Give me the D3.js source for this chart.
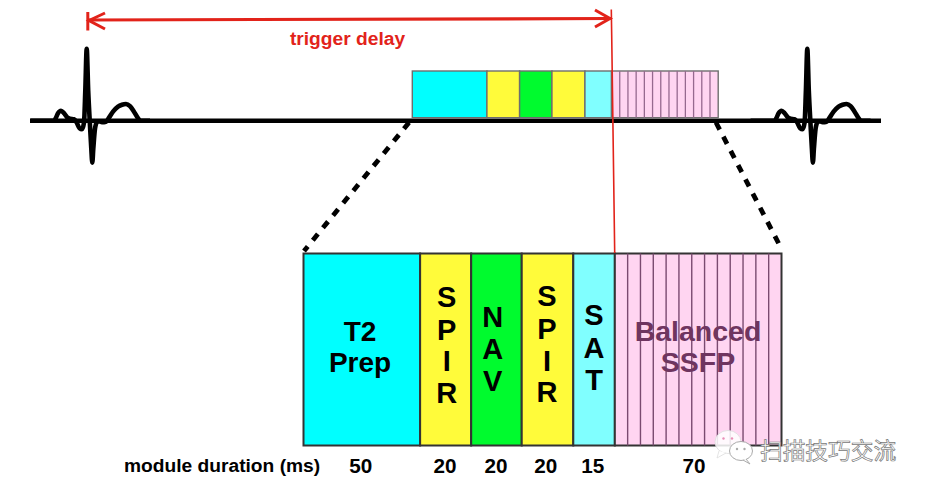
<!DOCTYPE html>
<html><head><meta charset="utf-8">
<script src="https://cdn.jsdelivr.net/npm/d3@7/dist/d3.min.js"></script>
<style>html,body{margin:0;padding:0;background:#fff;overflow:hidden}svg{display:block}text{font-family:"Liberation Sans",Arial,sans-serif;font-weight:700}</style>
</head><body><svg id="c" width="926" height="490"></svg>
<script>
// Modules of the pulse sequence, in order
const moduleNames = ["T2 Prep", "SPIR", "NAV", "SPIR", "SAT", "Balanced SSFP"];
const moduleDurations = [50, 20, 20, 20, 15, 70];
// Widths as drawn (the schematic is not to scale with the durations)
const moduleDrawnWidths = [116.5, 51, 50.5, 51.5, 41.5, 166.5];
const moduleColors = ["#00ffff", "#fffb3a", "#00fb2e", "#fffb3a", "#80ffff", "#ffd5f1"];
const readoutSegments = 13;
const axisLabel = "module duration (ms)";
const delayLabel = "trigger delay";
const watermark = "扫描技巧交流";
// One heartbeat trace: time, amplitude
const ecgTime = [0, 24, 25.5, 28, 31, 34, 37, 40, 44, 46.5, 49.5, 52, 54, 55.3, 56.7, 58.2, 60, 61.3, 62.3, 63.3, 65, 67, 69, 72, 76, 79, 83, 88, 92, 96, 100, 104, 108, 110.7, 120];
const ecgAmp = [0, 0, 2, 7.5, 10, 7.5, 3.5, 2, 1.5, -1.5, -7.5, -8.5, -2, 30, 72, 30, -5, -28, -42, -28, -8, -1.5, -0.5, -1.5, -1, 3, 9, 14, 16, 16.7, 14.5, 9, 2.5, 0, 0];
const beatOffsets = [0, 720.6];

const svg = d3.select("#c");
const RED = "#e2231a";
const total = d3.sum(moduleDrawnWidths);
const cum = d3.cumsum(moduleDrawnWidths);
const edges = [0, ...cum];
const xTop = d3.scaleLinear().domain([0, total]).range([412.3, 718.2]);
const xLow = d3.scaleLinear().domain([0, total]).range([303.5, 781.5]);
const yBase = d3.scaleLinear().domain([0, 1]).range([120.7, 120.7 - 1]);

// baseline + ECG
const xEcg = d3.scaleLinear().domain([0, 100]).range([30, 130]);
const line = d3.line().curve(d3.curveMonotoneX);
svg.append("line").attr("x1", 30.5).attr("x2", 881).attr("y1", yBase(0)).attr("y2", yBase(0))
  .attr("stroke", "#000").attr("stroke-width", 4.4);
beatOffsets.forEach(off => {
  svg.append("path")
    .attr("d", line(ecgTime.map((t, i) => [xEcg(t) + off, yBase(ecgAmp[i])])))
    .attr("fill", "none").attr("stroke", "#000").attr("stroke-width", 4.6)
    .attr("stroke-linejoin", "round").attr("stroke-linecap", "butt");
});

// dashed zoom lines
[[[409, 122.5], [304, 251]], [[716, 122.5], [780, 246]]].forEach(p => {
  svg.append("path").attr("d", d3.line()(p)).attr("stroke", "#000")
    .attr("stroke-width", 4.8).attr("stroke-dasharray", "8 8");
});

function drawBar(x, y0, y1, opt) {
  const g = svg.append("g");
  g.selectAll("rect").data(moduleDrawnWidths).join("rect")
    .attr("x", (d, i) => x(edges[i])).attr("width", (d, i) => x(edges[i + 1]) - x(edges[i]))
    .attr("y", y0).attr("height", y1 - y0)
    .attr("fill", (d, i) => moduleColors[i])
    .attr("stroke", opt.stroke).attr("stroke-width", opt.sw);
  const last = moduleDrawnWidths.length - 1;
  const seg = d3.scaleLinear().domain([0, readoutSegments]).range([x(edges[last]), x(edges[last + 1])]);
  g.selectAll("line").data(d3.range(1, readoutSegments)).join("line")
    .attr("x1", d => seg(d)).attr("x2", d => seg(d)).attr("y1", y0).attr("y2", y1)
    .attr("stroke", opt.stripe).attr("stroke-width", opt.ssw);
}
drawBar(xTop, 71, 117.7, {stroke: "#6e6e6e", sw: 1.4, stripe: "#96698f", ssw: 1.3});
drawBar(xLow, 253.5, 445.5, {stroke: "#333", sw: 2, stripe: "#7a4a70", ssw: 1.4});

// trigger delay arrow
const red = svg.append("g").attr("stroke", RED).attr("fill", "none");
red.append("path").attr("d", d3.line()([[88, 20], [611, 18.5]])).attr("stroke-width", 3.2);
red.append("path").attr("d", d3.line()([[87.8, 12], [87.8, 30.5]])).attr("stroke-width", 3);
red.append("path").attr("d", d3.line()([[105, 13], [89, 20.5], [105, 29]])).attr("stroke-width", 3);
red.append("path").attr("d", d3.line()([[595, 10], [610, 18.5], [595, 27]])).attr("stroke-width", 3);
red.append("path").attr("d", d3.line()([[611.3, 9.5], [611.7, 35], [614.7, 253]])).attr("stroke-width", 1.6);
svg.append("text").text(delayLabel).attr("x", 347.5).attr("y", 45).attr("text-anchor", "middle")
  .attr("font-size", 19.2).attr("fill", RED);

// block labels
function put(t, x, y, size, fill) {
  svg.append("text").text(t).attr("x", x).attr("y", y).attr("text-anchor", "middle")
    .attr("font-size", size).attr("fill", fill || "#000");
}
const words0 = moduleNames[0].split(" ");
put(words0[0], xLow(edges[0]) + 56.5, 341, 28);
put(words0[1], xLow(edges[0]) + 56.5, 372, 28);
const stackBaselines = [[306.7, 340, 371, 403], [327, 359, 391], [305.7, 339, 370.7, 402], [325, 357.7, 390]];
const stackCentre = [446.7, 492.7, 547, 594];
[1, 2, 3, 4].forEach((m, k) => {
  moduleNames[m].split("").forEach((ch, j) => put(ch, stackCentre[k], stackBaselines[k][j], 29));
});
const words5 = moduleNames[5].split(" ");
put(words5[0], 698, 341, 28.5, "#6f3560");
put(words5[1], 698, 372, 28.5, "#6f3560");

// durations
const durCentre = [360.7, 445, 496, 545.7, 592.7, 694];
moduleDurations.forEach((d, i) => put(String(d), durCentre[i], 472.5, 20.7));
svg.append("text").text(axisLabel).attr("x", 124).attr("y", 471.7).attr("font-size", 19.2).attr("fill", "#000");

// watermark
const wm = svg.append("g");
wm.append("ellipse").attr("cx", 728).attr("cy", 442).attr("rx", 13).attr("ry", 11.5)
  .attr("fill", "#fff").attr("fill-opacity", .85).attr("stroke", "#ddd").attr("stroke-width", .8);
wm.append("path").attr("d", "M719 451 L717 458 L726 453").attr("fill", "#fff").attr("stroke", "#ddd").attr("stroke-width", .8);
wm.append("ellipse").attr("cx", 741).attr("cy", 451).attr("rx", 11.5).attr("ry", 9.5)
  .attr("fill", "#fff").attr("stroke", "#aaa").attr("stroke-width", 1);
wm.append("path").attr("d", "M746 459 L750 464 L743 460").attr("fill", "#fff").attr("stroke", "#aaa").attr("stroke-width", 1);
[[723.5, 438.5, "#e98fb8"], [732, 438.5, "#e98fb8"], [737, 449, "#aaa"], [744.5, 449, "#aaa"]].forEach(d => {
  wm.append("circle").attr("cx", d[0]).attr("cy", d[1]).attr("r", 1.2).attr("fill", d[2]);
});
wm.append("text").text(watermark).attr("x", 760).attr("y", 459)
  .attr("font-size", 22.7).attr("fill", "#fff").attr("stroke", "#777").attr("stroke-width", .7)
  .style("font-family", '"Noto Sans CJK SC"').style("font-weight", 400);
</script></body></html>
